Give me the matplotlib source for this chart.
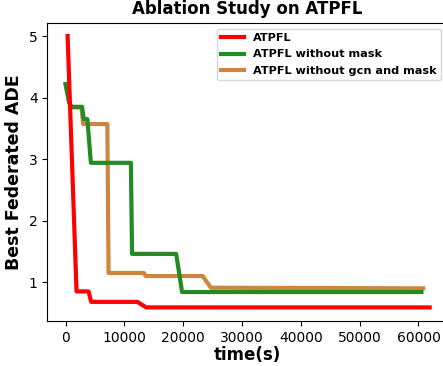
import matplotlib
matplotlib.use("Agg")
import matplotlib.pyplot as plt

# time (s) / best federated ADE
atpfl_t = [340, 1860, 3900, 4350, 12200, 13700, 61900]
atpfl_ade = [5.0, 0.85, 0.85, 0.68, 0.68, 0.59, 0.59]

nomask_t = [0, 600, 1000, 2800, 3100, 3700, 4300, 11100, 11300, 18800, 19800, 60500]
nomask_ade = [4.22, 3.92, 3.85, 3.85, 3.65, 3.65, 2.94, 2.94, 1.46, 1.46, 0.84, 0.84]

nogcn_t = [0, 600, 1000, 2700, 3000, 7100, 7300, 13300, 13600, 23300, 24700, 60800]
nogcn_ade = [4.22, 3.92, 3.84, 3.84, 3.57, 3.57, 1.15, 1.15, 1.10, 1.10, 0.91, 0.90]

fig = plt.figure(figsize=(4.43, 3.66), dpi=100)
ax = fig.add_axes([0.107, 0.123, 0.904, 0.8155])

ax.plot(atpfl_t, atpfl_ade, color='red', lw=3, label='ATPFL', zorder=4)
ax.plot(nomask_t, nomask_ade, color='forestgreen', lw=3, label='ATPFL without mask', zorder=3)
ax.plot(nogcn_t, nogcn_ade, color='peru', lw=3, label='ATPFL without gcn and mask', zorder=2)

ax.set_title('Ablation Study on ATPFL', fontsize=12, fontweight='bold')
ax.set_xlabel('time(s)', fontsize=12, fontweight='bold', labelpad=1)
ax.set_ylabel('Best Federated ADE', fontsize=12.5, fontweight='bold')
ax.set_xticks([0, 10000, 20000, 30000, 40000, 50000, 60000])
ax.set_yticks([1, 2, 3, 4, 5])
ax.tick_params(axis='both', labelsize=10)
ax.legend(loc='upper right', bbox_to_anchor=(0.983, 0.979), borderaxespad=0,
          prop={'weight': 'bold', 'size': 8.1}, handlelength=2.0, labelspacing=0.55)

fig.savefig('out.png', dpi=100)
